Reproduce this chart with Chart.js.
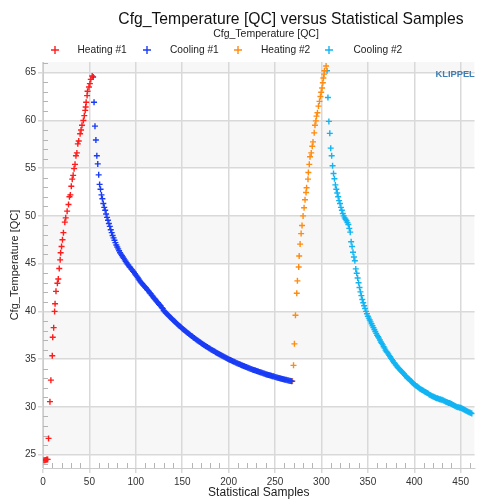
<!DOCTYPE html>
<html>
<head>
<meta charset="utf-8">
<title>Cfg_Temperature [QC] versus Statistical Samples</title>
<script src="https://cdn.jsdelivr.net/npm/chart.js@4"></script>
<style>
  html, body { margin: 0; padding: 0; background: #fff; }
  #wrap { width: 480px; height: 500px; }
</style>
</head>
<body>
<div id="wrap"><canvas id="chart" width="480" height="500"></canvas></div>
<script>
// --- data ---
const seriesNames = ['Heating #1', 'Cooling #1', 'Heating #2', 'Cooling #2'];
const seriesColors = ['#ff1c1c', '#1a3cf5', '#ff8c10', '#12b4f2'];

// Heating #1 : sample, temperature
const heating1X = [1, 2, 3, 4, 5, 6, 7.5, 8.5, 10, 10.5, 11.5, 12.5, 13, 14, 15.5, 16.5, 17.5, 18.5, 19, 20,
  21, 22, 23.5, 24.5, 26, 27.5, 28.5, 29.5, 30.5, 31.5, 32.5, 33.5, 34.5, 35.5, 36.5, 37.5, 38.5, 40, 41, 42,
  43.5, 44.5, 45.5, 46, 46.5, 47.5, 48, 49.5, 50.5, 51.5, 53];
const heating1Y = [24.4, 24.4, 24.45, 24.5, 24.5, 26.7, 30.55, 32.8, 35.35, 37.3, 38.3, 40.0, 40.8, 42.1, 42.95, 43.4, 44.5, 45.4, 46.15, 46.8,
  47.5, 48.25, 49.35, 49.8, 50.5, 51.2, 52.0, 52.2, 53.1, 53.85, 54.25, 54.95, 55.4, 56.3, 56.6, 57.55, 57.85, 58.6, 59.0, 59.5,
  60.0, 60.5, 61.05, 61.4, 61.9, 62.6, 63.05, 63.5, 63.85, 64.3, 64.65];

// Cooling #1 : one value per sample, starting at sample 54
const cooling1Start = 54;
const cooling1Y = [
  64.55, 61.9, 59.4, 57.95, 56.3, 55.45, 54.3, 53.3, 52.8, 52.2, 51.8, 51.3, 50.9, 50.6, 50.2, 49.85, 49.55,
  49.2, 48.9, 48.55, 48.25, 47.95, 47.7, 47.45, 47.2, 46.95, 46.75, 46.55, 46.35, 46.15, 46.0, 45.85, 45.7,
  45.55, 45.4, 45.25, 45.1, 44.95, 44.85, 44.7, 44.6, 44.45, 44.35, 44.2, 44.1, 43.95, 43.8, 43.7, 43.55,
  43.4, 43.25, 43.1, 43.0, 42.9, 42.75, 42.65, 42.55, 42.45, 42.3, 42.2, 42.1, 41.95, 41.85, 41.7, 41.6,
  41.45, 41.35, 41.25, 41.1, 41.0, 40.9, 40.75, 40.65, 40.55, 40.4, 40.3, 40.1,
  39.99, 39.89, 39.79, 39.69, 39.59, 39.49, 39.40, 39.30, 39.21, 39.11,
  39.02, 38.93, 38.83, 38.74, 38.65, 38.56, 38.48, 38.39, 38.31, 38.22,
  38.14, 38.06, 37.97, 37.89, 37.81, 37.73, 37.66, 37.58, 37.51, 37.43,
  37.36, 37.28, 37.21, 37.13, 37.06, 36.99, 36.92, 36.86, 36.79, 36.72,
  36.65, 36.59, 36.52, 36.46, 36.39, 36.33, 36.27, 36.20, 36.14, 36.08,
  36.02, 35.96, 35.91, 35.85, 35.79, 35.73, 35.68, 35.62, 35.57, 35.51,
  35.46, 35.41, 35.35, 35.30, 35.25, 35.20, 35.15, 35.10, 35.05, 35.00,
  34.95, 34.90, 34.86, 34.81, 34.76, 34.72, 34.67, 34.63, 34.58, 34.54,
  34.50, 34.46, 34.41, 34.37, 34.33, 34.29, 34.25, 34.21, 34.17, 34.13,
  34.09, 34.05, 34.02, 33.98, 33.94, 33.90, 33.87, 33.83, 33.80, 33.76,
  33.73, 33.70, 33.66, 33.63, 33.60, 33.57, 33.53, 33.50, 33.46, 33.43,
  33.40, 33.37, 33.34, 33.31, 33.28, 33.25, 33.22, 33.20, 33.17, 33.14,
  33.11, 33.08, 33.06, 33.03, 33.00, 32.98, 32.95, 32.93, 32.90, 32.88,
  32.85, 32.83, 32.80, 32.78, 32.75, 32.73, 32.70, 32.68];

// Heating #2 : sample, temperature
const heating2X = [268.8, 269.9, 270.9, 272, 273.4, 274.1, 275.5, 276, 277, 278.1, 279.1, 280.2, 281.3, 282.3, 283.4, 284, 285.5, 285.9, 286.9, 287.7,
  289, 290.1, 290.9, 292.2, 293, 294, 294.7, 295.7, 296.8, 297.9, 298.9, 299.7, 300.7, 301.5, 302.1, 302.9, 303.2, 305];
const heating2Y = [32.7, 34.35, 36.6, 39.6, 41.9, 43.2, 44.65, 45.8, 47.05, 48.15, 49.0, 50.0, 50.85, 51.7, 52.45, 52.95, 53.85, 54.55, 55.4, 56.2,
  56.6, 57.3, 57.75, 58.7, 59.5, 59.95, 60.45, 60.8, 61.5, 62.0, 62.5, 62.95, 63.4, 63.95, 64.45, 64.85, 65.2, 65.7];

// Cooling #2 : one value per sample, starting at sample 306
const cooling2Start = 306;
const cooling2Y = [
  65.2, 62.4, 59.9, 58.65, 57.1, 56.3, 55.25, 54.45, 53.9, 53.25, 52.8, 52.4, 52.0, 51.6, 51.3, 50.9, 50.6,
  50.25, 50.0, 49.8, 49.65, 49.5, 49.3, 49.1, 48.7, 48.3, 47.3, 46.8, 46.2, 45.7, 45.3, 44.45, 44.0, 43.5,
  43.0, 42.5, 42.05, 41.65, 41.25, 40.9, 40.6, 40.3, 40.0, 39.75, 39.5, 39.3, 39.1, 38.9, 38.7, 38.5, 38.3,
  38.1, 37.9, 37.7, 37.5, 37.35, 37.2, 37.0, 36.8, 36.65, 36.5, 36.3, 36.15, 35.95, 35.8, 35.7, 35.55, 35.4,
  35.25, 35.1, 34.95, 34.8, 34.65, 34.55, 34.4, 34.3, 34.15, 34.05, 33.95, 33.85, 33.75, 33.65, 33.55, 33.45,
  33.3, 33.2, 33.1, 33.0, 32.95, 32.85, 32.75, 32.65, 32.55, 32.45, 32.35, 32.3, 32.2, 32.15, 32.05, 32.0,
  31.9, 31.85, 31.8, 31.75, 31.7, 31.6, 31.55, 31.5, 31.45, 31.4, 31.3, 31.25, 31.2, 31.15, 31.1, 31.05,
  31.0, 30.95, 30.9, 30.9, 30.85, 30.8, 30.8, 30.75, 30.75, 30.7, 30.65, 30.6, 30.55, 30.5, 30.45, 30.4,
  30.4, 30.35, 30.3, 30.25, 30.2, 30.15, 30.1, 30.05, 30.0, 29.95, 29.95, 29.9, 29.9, 29.85, 29.8, 29.75,
  29.7, 29.65, 29.6, 29.55, 29.5, 29.45, 29.4, 29.35, 29.3];

const xTickStep = 50;
const yTickStep = 5;
const xMinorStep = 10;
const yMinorStep = 1;

// --- build chart ---
const FONT = '"Liberation Sans", Arial, Helvetica, sans-serif';

const pairs = (xs, ys) => xs.map((x, i) => ({ x, y: ys[i] }));
const seq = (start, ys) => ys.map((y, i) => ({ x: start + i, y }));

const seriesPoints = [
  pairs(heating1X, heating1Y),
  seq(cooling1Start, cooling1Y),
  pairs(heating2X, heating2Y),
  seq(cooling2Start, cooling2Y)
];

const datasets = seriesPoints.map((pts, i) => ({
  label: seriesNames[i],
  data: pts,
  showLine: false,
  pointStyle: 'cross',
  pointRadius: 3,
  pointBorderWidth: 1.4,
  borderColor: seriesColors[i],
  backgroundColor: seriesColors[i]
}));

// alternating horizontal bands behind the grid
const bandPlugin = {
  id: 'bands',
  beforeDraw(chart) {
    const { ctx, chartArea: a, scales: { y } } = chart;
    ctx.save();
    ctx.fillStyle = '#fff';
    ctx.fillRect(0, 0, chart.width, chart.height);
    ctx.beginPath();
    ctx.rect(a.left, a.top, a.right - a.left, a.bottom - a.top);
    ctx.clip();
    ctx.fillStyle = '#f7f7f7';
    for (let v = 20; v < 70; v += yTickStep) {
      if ((v / yTickStep) % 2 === 1) {
        const y1 = y.getPixelForValue(v + yTickStep);
        const y0 = y.getPixelForValue(v);
        ctx.fillRect(a.left, y1, a.right - a.left, y0 - y1);
      }
    }
    ctx.restore();
  }
};

// small inner ticks between the labelled ones
const minorTickPlugin = {
  id: 'minorTicks',
  beforeDatasetsDraw(chart) {
    const { ctx, chartArea: a, scales: { x, y } } = chart;
    ctx.save();
    ctx.strokeStyle = '#b4b4b4';
    ctx.lineWidth = 1;
    ctx.beginPath();
    for (let v = Math.ceil(y.min); v <= y.max; v += yMinorStep) {
      if (v % yTickStep === 0) continue;
      const py = Math.round(y.getPixelForValue(v)) + 0.5;
      ctx.moveTo(a.left, py);
      ctx.lineTo(a.left + 5, py);
    }
    for (let v = 0; v <= x.max; v += xMinorStep) {
      if (v % xTickStep === 0) continue;
      const px = Math.round(x.getPixelForValue(v)) + 0.5;
      ctx.moveTo(px, a.bottom);
      ctx.lineTo(px, a.bottom - 5);
    }
    ctx.stroke();
    ctx.restore();
  }
};

// title, subtitle, legend row and logo text
const headerPlugin = {
  id: 'header',
  afterDraw(chart) {
    const { ctx } = chart;
    ctx.save();
    ctx.textBaseline = 'alphabetic';
    ctx.fillStyle = '#111';
    ctx.textAlign = 'center';
    ctx.font = '15.7px ' + FONT;
    ctx.fillText('Cfg_Temperature [QC] versus Statistical Samples', 291, 24);
    ctx.fillStyle = '#222';
    ctx.font = '10.5px ' + FONT;
    ctx.fillText('Cfg_Temperature [QC]', 266, 37);

    const markX = [55, 147, 238, 329];
    const textX = [77.5, 170, 261, 353.5];
    ctx.textAlign = 'left';
    ctx.font = '10.2px ' + FONT;
    chart.data.datasets.forEach((ds, i) => {
      ctx.strokeStyle = ds.borderColor;
      ctx.lineWidth = 1.4;
      ctx.beginPath();
      ctx.moveTo(markX[i] - 4, 50);
      ctx.lineTo(markX[i] + 4, 50);
      ctx.moveTo(markX[i], 46);
      ctx.lineTo(markX[i], 54);
      ctx.stroke();
      ctx.fillStyle = '#222';
      ctx.fillText(ds.label, textX[i], 52.5);
    });

    ctx.fillStyle = '#3d7fb6';
    ctx.font = 'bold 9.3px ' + FONT;
    ctx.fillText('KLIPPEL', 435.5, 76.5);
    ctx.restore();
  }
};

new Chart(document.getElementById('chart'), {
  type: 'scatter',
  data: { datasets },
  options: {
    responsive: false,
    devicePixelRatio: 1,
    animation: false,
    events: [],
    layout: { padding: { top: 62, right: 1, left: 0, bottom: 0 } },
    plugins: {
      legend: { display: false },
      title: { display: false },
      tooltip: { enabled: false }
    },
    scales: {
      x: {
        type: 'linear',
        min: 0,
        max: 465,
        afterFit: s => { s.height = 32; },
        afterBuildTicks: s => { s.ticks = s.ticks.filter(t => t.value % xTickStep === 0); },
        ticks: { stepSize: xTickStep, includeBounds: false, padding: 3, color: '#333', font: { family: FONT, size: 10 }, maxRotation: 0 },
        grid: { color: '#d9d9d9', lineWidth: 1.5, tickLength: 5 },
        border: { color: '#cccccc', width: 1 },
        title: { display: true, text: 'Statistical Samples', color: '#222', font: { family: FONT, size: 12 }, padding: { top: 0, bottom: 0.5 } }
      },
      y: {
        type: 'linear',
        min: 23.6,
        max: 66.12,
        afterFit: s => { s.width = 43; },
        afterBuildTicks: s => { s.ticks = s.ticks.filter(t => Math.abs(t.value % yTickStep) < 1e-9); },
        ticks: { stepSize: yTickStep, includeBounds: false, padding: 2, color: '#333', font: { family: FONT, size: 10 } },
        grid: { color: '#d9d9d9', lineWidth: 1.5, tickLength: 5 },
        border: { color: '#cccccc', width: 1 },
        title: { display: true, text: 'Cfg_Temperature [QC]', color: '#222', font: { family: FONT, size: 11 }, padding: { top: 8.4, bottom: 0 } }
      }
    }
  },
  plugins: [bandPlugin, minorTickPlugin, headerPlugin]
});
</script>
</body>
</html>
